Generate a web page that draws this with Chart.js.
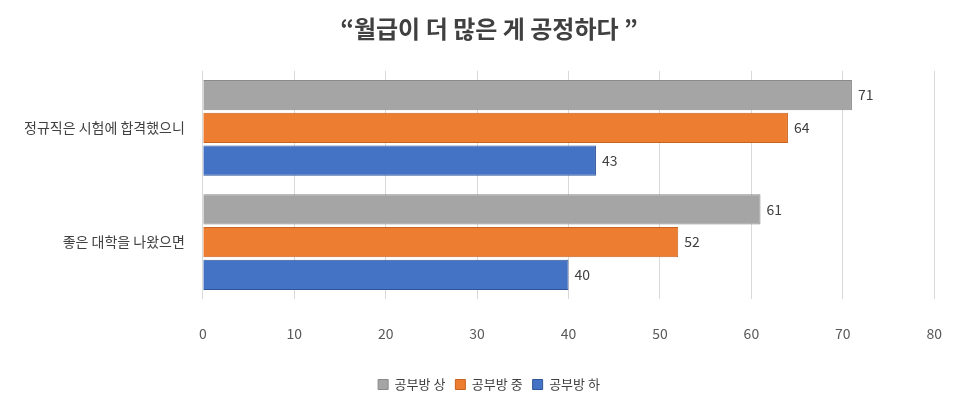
<!DOCTYPE html>
<html><head><meta charset="utf-8">
<script src="https://cdn.jsdelivr.net/npm/chart.js@4/dist/chart.umd.min.js"></script>
<style>body{margin:0;background:#fff}#w{width:968px;height:403px}</style>
</head><body><div id="w"><canvas id="c"></canvas></div>
<script>
const categories = ["정규직은 시험에 합격했으니", "좋은 대학을 나왔으면"];
const seriesNames = ["공부방 상", "공부방 중", "공부방 하"];
const upper = [71, 61];
const middle = [64, 52];
const lower = [43, 40];
const xTicks = [0,10,20,30,40,50,60,70,80];
const F = "'Noto Sans CJK KR', 'Noto Sans', sans-serif";
const labelPlugin = {
  id:'lbl',
  afterDatasetsDraw(chart){
    const ctx = chart.ctx;
    ctx.save();
    ctx.font = "14px "+F; ctx.fillStyle="#404040"; ctx.textBaseline="middle";
    chart.data.datasets.forEach((ds,i)=>{
      chart.getDatasetMeta(i).data.forEach((b,j)=>{
        ctx.fillText(ds.data[j], b.x+6, b.y);
      });
    });
    ctx.restore();
  }
};
new Chart(document.getElementById('c'), {
  type:'bar',
  data:{labels:categories, datasets:[
    {label:seriesNames[0], data:upper, backgroundColor:'#A5A5A5', borderColor:'#8a8a8a', borderWidth:1},
    {label:seriesNames[1], data:middle, backgroundColor:'#ED7D31', borderColor:'#c8631f', borderWidth:1},
    {label:seriesNames[2], data:lower, backgroundColor:'#4472C4', borderColor:'#2f5597', borderWidth:1}
  ]},
  options:{
    indexAxis:'y', responsive:true, maintainAspectRatio:false, animation:false,
    layout:{padding:{left:14,right:4,top:8,bottom:2}},
    datasets:{bar:{categoryPercentage:0.86, barPercentage:0.92}},
    plugins:{
      title:{display:true, text:'“월급이 더 많은 게 공정하다 ”', color:'#404040', font:{family:F,size:24,weight:'bold'}, padding:{top:6,bottom:28}},
      legend:{position:'bottom', labels:{boxWidth:10, boxHeight:10, color:'#404040', font:{family:F,size:13}, padding:10}},
      tooltip:{enabled:false}
    },
    scales:{
      x:{min:0,max:80, afterBuildTicks(a){a.ticks=xTicks.map(v=>({value:v}));},
        grid:{color:'#d9d9d9', drawTicks:false}, border:{display:false},
        ticks:{color:'#595959', font:{family:F,size:14}, padding:26}},
      y:{grid:{display:false}, border:{display:false},
        ticks:{color:'#404040', font:{family:F,size:14}, padding:10}}
    }
  },
  plugins:[labelPlugin]
});
</script></body></html>
